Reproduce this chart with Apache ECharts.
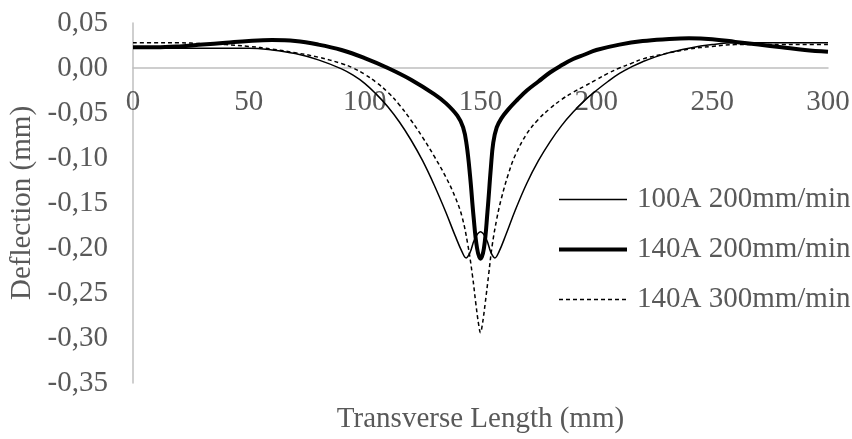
<!DOCTYPE html>
<html>
<head>
<meta charset="utf-8">
<script src="https://cdn.jsdelivr.net/npm/echarts@6/dist/echarts.min.js"></script>
<style>html,body{margin:0;padding:0;background:#fff}#c{width:852px;height:439px}</style>
</head>
<body>
<div id="c"></div>
<script>
var seriesNames = ['100A 200mm/min', '140A 200mm/min', '140A 300mm/min'];
var xTicks = [0, 50, 100, 150, 200, 250, 300];
var yTicks = [-0.35, -0.30, -0.25, -0.20, -0.15, -0.10, -0.05, 0.00, 0.05];

var x100A200 = [0,10,20,30,40,50,60,70,80,90,95,100,105,110,115,120,125,130,135,139,142,143.8,145.5,147.5,150,152.5,154.5,156.2,158,161,165,170,175,180,185,190,195,200,205,210,215,220,230,240,250,260,270,280,290,300];
var y100A200 = [0.022,0.022,0.022,0.022,0.022,0.022,0.020,0.016,0.009,-0.001,-0.008,-0.017,-0.029,-0.043,-0.060,-0.080,-0.103,-0.130,-0.160,-0.186,-0.204,-0.211,-0.205,-0.190,-0.182,-0.190,-0.205,-0.211,-0.204,-0.185,-0.158,-0.128,-0.103,-0.082,-0.064,-0.049,-0.036,-0.025,-0.015,-0.006,0.001,0.007,0.016,0.022,0.026,0.028,0.028,0.028,0.028,0.028];

var x140A200 = [0,10,20,30,40,50,60,70,80,90,100,110,120,130,135,140,142.5,144,145.5,147,148.5,150,151.5,153,154.5,155.5,157,159,162,166,170,175,180,185,190,195,200,210,220,230,240,250,260,270,280,290,300];
var y140A200 = [0.023,0.023,0.024,0.026,0.028,0.030,0.031,0.030,0.026,0.020,0.011,0.000,-0.013,-0.029,-0.039,-0.053,-0.066,-0.085,-0.120,-0.165,-0.200,-0.212,-0.200,-0.160,-0.110,-0.083,-0.066,-0.056,-0.046,-0.035,-0.025,-0.015,-0.005,0.003,0.010,0.015,0.020,0.026,0.030,0.032,0.033,0.032,0.029,0.026,0.023,0.020,0.018];

var x140A300 = [0,10,20,30,40,50,60,70,80,90,95,100,105,110,115,120,125,130,135,139,142,144.5,146.5,148,149.2,150,150.8,152,153.5,155,157,159,162,165,170,175,180,185,190,195,200,205,210,215,220,230,240,250,260,270,280,290,300];
var y140A300 = [0.028,0.028,0.028,0.027,0.026,0.024,0.021,0.017,0.012,0.005,0.000,-0.007,-0.016,-0.027,-0.041,-0.058,-0.077,-0.098,-0.121,-0.143,-0.165,-0.196,-0.230,-0.262,-0.285,-0.294,-0.285,-0.262,-0.230,-0.198,-0.168,-0.145,-0.118,-0.097,-0.073,-0.057,-0.045,-0.035,-0.027,-0.020,-0.013,-0.006,0.000,0.005,0.010,0.016,0.021,0.024,0.026,0.026,0.026,0.026,0.026];

function pairs(xs, ys) { return xs.map(function (x, i) { return [x, ys[i]]; }); }

var FONT = "'Liberation Serif', 'Times New Roman', serif";
var TXT = '#595959';
var AX = '#bfbfbf';
var FS = 29;

var chart = echarts.init(document.getElementById('c'), null, {renderer: 'canvas'});
chart.setOption({
  animation: false,
  backgroundColor: '#ffffff',
  textStyle: {fontFamily: FONT},
  grid: {left: 133, right: 24, top: 23, bottom: 56, containLabel: false, outerBoundsMode: 'none'},
  legend: {
    orient: 'vertical',
    left: 557,
    top: 185,
    padding: 0,
    itemWidth: 68,
    itemHeight: 14,
    itemGap: 21,
    data: seriesNames,
    itemStyle: {opacity: 0},
    lineStyle: {width: 'inherit'},
    textStyle: {fontFamily: FONT, fontSize: FS, color: TXT, padding: [0, 0, 0, 5]}
  },
  xAxis: {
    type: 'value',
    position: 'bottom',
    offset: -315,
    min: xTicks[0], max: xTicks[xTicks.length - 1], interval: 50,
    name: 'Transverse Length (mm)',
    nameLocation: 'middle',
    nameGap: 337,
    nameTextStyle: {fontFamily: FONT, fontSize: FS, color: TXT},
    axisLine: {onZero: false, lineStyle: {color: AX, width: 1.5}},
    axisTick: {show: false},
    axisLabel: {fontFamily: FONT, fontSize: FS, color: TXT, margin: 20},
    splitLine: {show: false}
  },
  yAxis: {
    type: 'value',
    min: yTicks[0], max: yTicks[yTicks.length - 1], interval: 0.05,
    name: 'Deflection (mm)',
    nameLocation: 'middle',
    nameGap: 94,
    nameRotate: 90,
    nameTextStyle: {fontFamily: FONT, fontSize: FS, color: TXT},
    axisLine: {show: true, onZero: false, lineStyle: {color: AX, width: 1.5}},
    axisTick: {show: false},
    axisLabel: {fontFamily: FONT, fontSize: FS, color: TXT, margin: 25,
      formatter: function (v) { return v.toFixed(2).replace('.', ','); }},
    splitLine: {show: false}
  },
  series: [
    {name: seriesNames[0], type: 'line', data: pairs(x100A200, y100A200), showSymbol: false, symbol: 'none',
     smooth: 0.4, lineStyle: {color: '#000', width: 1.5, type: 'solid'}, itemStyle: {color: '#000'}},
    {name: seriesNames[1], type: 'line', data: pairs(x140A200, y140A200), showSymbol: false, symbol: 'none',
     smooth: 0.4, lineStyle: {color: '#000', width: 4, type: 'solid'}, itemStyle: {color: '#000'}},
    {name: seriesNames[2], type: 'line', data: pairs(x140A300, y140A300), showSymbol: false, symbol: 'none',
     smooth: 0.4, lineStyle: {color: '#000', width: 1.5, type: [4, 3]}, itemStyle: {color: '#000'}}
  ]
});
</script>
</body>
</html>
